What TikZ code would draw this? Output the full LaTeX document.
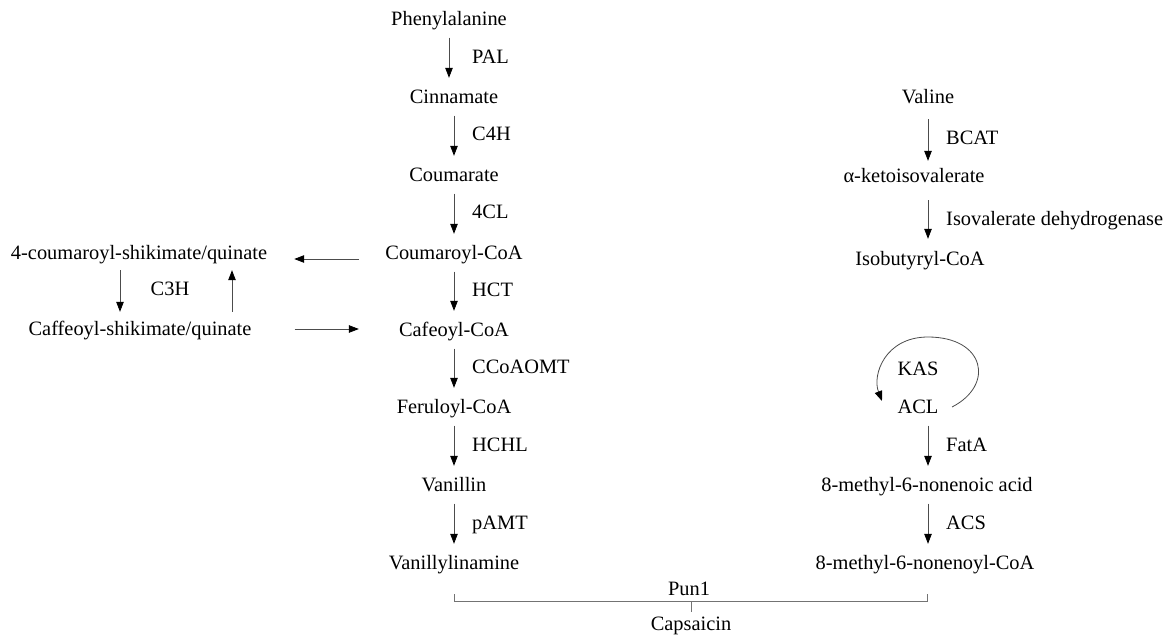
\documentclass[tikz,border=0pt]{standalone}
\usepackage{fontspec}
\setmainfont{Liberation Serif}
\usetikzlibrary{arrows.meta}
\begin{document}
\begin{tikzpicture}[x=1pt,y=-1pt,
  lbl/.style={inner sep=0pt,text height=14pt,text depth=4pt,font=\fontsize{20.4}{24}\selectfont},
  enz/.style={lbl,anchor=west},
  arr/.style={draw=black!70,line width=0.8pt,-{Triangle[length=10pt,width=7.5pt,color=black]},shorten <=8.5pt,shorten >=11pt},
  harr/.style={draw=black!70,line width=0.8pt,-{Triangle[length=10pt,width=7.5pt,color=black]}},
  brk/.style={draw=black!55,line width=0.9pt}]
\useasboundingbox (0,0) rectangle (1163,638);
% main column
\node[lbl] (phe) at (449,20) {Phenylalanine};
\node[lbl] (cin) at (454,98) {Cinnamate};
\node[lbl] (cou) at (454,176) {Coumarate};
\node[lbl] (cca) at (454,254) {Coumaroyl-CoA};
\node[lbl] (caf) at (454,331) {Cafeoyl-CoA};
\node[lbl] (fer) at (454,408) {Feruloyl-CoA};
\node[lbl] (van) at (454,486) {Vanillin};
\node[lbl] (vna) at (454,564) {Vanillylinamine};
% left side
\node[lbl] (cs) at (139,254) {4-coumaroyl-shikimate/quinate};
\node[lbl] (cfs) at (140,330) {Caffeoyl-shikimate/quinate};
\node[lbl] (c3h) at (170,290) {C3H};
% right column
\node[lbl] (val) at (928,98) {Valine};
\node[lbl] (kiv) at (914,177) {α-ketoisovalerate};
\node[lbl] (ibc) at (920,260) {Isobutyryl-CoA};
\node[lbl] (kas) at (918,370) {KAS};
\node[lbl] (acl) at (918,408) {ACL};
\node[lbl] (mna) at (927,486) {8-methyl-6-nonenoic acid};
\node[lbl] (mnc) at (925,564) {8-methyl-6-nonenoyl-CoA};
% bottom
\node[lbl] (pun) at (689,590) {Pun1};
\node[lbl] (cap) at (691,625) {Capsaicin};
% enzyme labels
\node[enz] (pal) at (472,58) {PAL};
\node[enz] (c4h) at (472,135) {C4H};
\node[enz] (fcl) at (472,213) {4CL};
\node[enz] (hct) at (472,291) {HCT};
\node[enz] (ccoa) at (472,368) {CCoAOMT};
\node[enz] (hchl) at (472,446) {HCHL};
\node[enz] (pamt) at (472,524) {pAMT};
\node[enz] (bcat) at (946,139) {BCAT};
\node[enz] (ivd) at (946,220) {Isovalerate dehydrogenase};
\node[enz] (fata) at (946,446) {FatA};
\node[enz] (acs) at (946,524) {ACS};
% main arrows
\draw[arr] (phe.south) -- (phe.south |- cin.north);
\draw[arr] (cin.south) -- (cou.north);
\draw[arr] (cou.south) -- (cca.north);
\draw[arr] (cca.south) -- (caf.north);
\draw[arr] (caf.south) -- (fer.north);
\draw[arr] (fer.south) -- (van.north);
\draw[arr] (van.south) -- (vna.north);
% right arrows
\draw[arr,shorten <=12pt,shorten >=7pt] (val.south) -- (val.south |- kiv.north);
\draw[arr,shorten <=14pt,shorten >=12pt] (kiv.south -| val.south) -- (ibc.north -| val.south);
\draw[arr] (acl.south -| val.south) -- (mna.north -| val.south);
\draw[arr] (mna.south -| val.south) -- (mnc.north -| val.south);
% left arrows
\draw[harr,shorten <=26pt,shorten >=27pt] ([yshift=-5pt]cca.west) -- ([yshift=-5pt]cs.east);
\draw[harr,shorten <=43pt,shorten >=40pt] ([yshift=1pt]cfs.east) -- ([yshift=2pt]caf.west);
\draw[arr,shorten <=7pt,shorten >=9pt] ([xshift=-19pt]cs.south) -- ([xshift=-20pt]cfs.north);
\draw[arr,shorten <=9pt,shorten >=7pt] ([xshift=92pt]cfs.north) -- ([xshift=93pt]cs.south);
% KAS/ACL loop
\draw[harr] (952,407) .. controls (995,385) and (985,337) .. (928,337)
  .. controls (885,337) and (872,375) .. (882,401);
% bracket
\draw[brk] (454,594) -- (454,601) -- (927,601) -- (927,594);
\draw[brk] (691,601) -- (691,612);
\end{tikzpicture}
\end{document}
